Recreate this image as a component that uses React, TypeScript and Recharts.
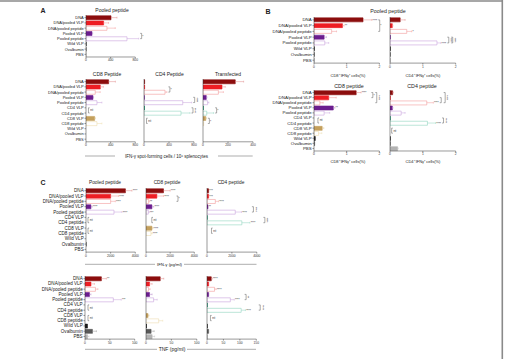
import React from 'react';
import { BarChart, Bar, XAxis, YAxis, Cell, ReferenceLine } from 'recharts';

const FONT = '"Liberation Sans", Arial, Helvetica, sans-serif';

// ---- categories ----
const groupsShort = ['DNA', 'DNA/pooled VLP', 'DNA/pooled peptide', 'Pooled VLP', 'Pooled peptide', 'Wild VLP', 'Ovalbumin', 'PBS'];
const groupsFull = ['DNA', 'DNA/pooled VLP', 'DNA/pooled peptide', 'Pooled VLP', 'Pooled peptide', 'CD4 VLP', 'CD4 peptide', 'CD8 VLP', 'CD8 peptide', 'Wild VLP', 'Ovalbumin', 'PBS'];

type Bracket = [string, string, string, number];
type Pair = [string, string];

// ---- A: IFN-γ ELISpot (spot-forming cells / 10^6 splenocytes) ----
const spotPooledMean = [406, 286, 340, 97, 665, 2, 2, 1];
const spotPooledErr = [97, 80, 135, 12, 190, 0, 0, 0];
const spotPooledStars = ['', '', '', '', '', '', '', ''];
const spotPooledBrackets: Bracket[] = [['Pooled VLP', 'Pooled peptide', '*', 0]];

const spotCd8Mean = [367, 232, 150, 113, 178, null, null, 140, 178, 0, 0, 0];
const spotCd8Err = [110, 50, 80, 10, 80, 0, 0, 12, 80, 0, 0, 0];
const spotCd8Stars = ['', '', '', '', '', '', '', '', '', '', '', ''];
const spotCd8Untested: Pair[] = [['CD4 VLP', 'CD4 peptide']];

const spotCd4Mean = [10, 10, 336, 5, 620, 8, 592, null, null, 0, 0, 0];
const spotCd4Err = [0, 0, 30, 0, 143, 0, 144, 0, 0, 0, 0, 0];
const spotCd4Stars = ['', '', '', '', '', '', '', '', '', '', '', ''];
const spotCd4Brackets: Bracket[] = [
  ['DNA/pooled VLP', 'DNA/pooled peptide', '*', 0],
  ['Pooled VLP', 'Pooled peptide', '****', 0],
  ['CD4 VLP', 'CD4 peptide', '****', 0],
];
const spotCd4Untested: Pair[] = [['CD8 VLP', 'CD8 peptide']];

const spotTransMean = [258, 152, 123, 26, 37, 3, 30, 22, 5, 0, 0, 0];
const spotTransErr = [67, 26, 40, 6, 10, 0, 55, 5, 0, 0, 0, 0];
const spotTransStars = ['', '', '', '', '', '', '', '', '', '', '', ''];
const spotTransBrackets: Bracket[] = [
  ['CD4 VLP', 'CD4 peptide', '*', 0],
  ['CD8 VLP', 'CD8 peptide', '*', 0],
];

// ---- B: intracellular IFN-γ (% of CD8+ / CD4+ cells) ----
const icsPoolCd8Mean = [1.5, 0.87, 0.54, 0.31, 0.33, 0.01, 0.01, 0.01];
const icsPoolCd8Err = [0.27, 0.05, 0.15, 0.07, 0.12, 0, 0, 0];
const icsPoolCd8Stars = ['****', '**', '', '', '', '', '', ''];
const icsPoolCd8Brackets: Bracket[] = [['DNA', 'DNA/pooled peptide', '*', 1]];

const icsPoolCd4Mean = [0.31, 0.07, 0.51, 0.01, 1.43, 0.01, 0.01, 0.01];
const icsPoolCd4Err = [0.15, 0.02, 0.15, 0, 0.12, 0, 0, 0];
const icsPoolCd4Stars = ['', '', '*', '', '****', '', '', ''];
const icsPoolCd4Brackets: Bracket[] = [
  ['Pooled VLP', 'Pooled peptide', '****', 1],
  ['Pooled VLP', 'Pooled peptide', '****', 2],
];

const icsCd8Mean = [1.29, 0.45, 0.18, 0.59, 0.31, null, null, 0.25, 0.14, 0.04, 0.02, 0];
const icsCd8Err = [0.15, 0.23, 0.1, 0.05, 0.17, 0, 0, 0.05, 0.1, 0, 0, 0];
const icsCd8Stars = ['****', '', '', '**', '', '', '', '', '', '', '', ''];
const icsCd8Brackets: Bracket[] = [
  ['DNA', 'DNA/pooled VLP', '*', 2],
  ['DNA', 'DNA/pooled peptide', '****', 3],
];
const icsCd8Untested: Pair[] = [['CD4 VLP', 'CD4 peptide']];

const icsCd4Mean = [0.08, 0.01, 1.12, 0.07, 0.34, 0.01, 1.14, null, null, 0.01, 0.01, 0.23];
const icsCd4Err = [0.02, 0, 0.2, 0.02, 0.12, 0, 0.25, 0, 0, 0, 0, 0.02];
const icsCd4Stars = ['', '', '****', '', '', '', '****', '', '', '', '', ''];
const icsCd4Brackets: Bracket[] = [
  ['DNA/pooled VLP', 'DNA/pooled peptide', '', 1],
  ['DNA', 'DNA/pooled peptide', '****', 2],
  ['CD4 VLP', 'CD4 peptide', '****', 1],
];
const icsCd4Untested: Pair[] = [['CD8 VLP', 'CD8 peptide']];

// ---- C: secreted IFN-γ and TNF (pg/ml) ----
const ifnPooledMean = [3200, 2000, 2000, 400, 2270, null, null, null, null, 0, 20, 0];
const ifnPooledErr = [530, 650, 380, 100, 650, 0, 0, 0, 0, 0, 0, 0];
const ifnPooledStars = ['****', '****', '****', '****', '****', '', '', '', '', '', '', ''];
const ifnPooledUntested: Pair[] = [['CD4 VLP', 'CD4 peptide'], ['CD8 VLP', 'CD8 peptide']];

const ifnCd8Mean = [1450, 900, 220, 490, 190, null, null, 490, 410, 0, 0, 0];
const ifnCd8Err = [550, 550, 50, 150, 80, 0, 0, 80, 100, 0, 0, 0];
const ifnCd8Stars = ['****', '****', '**', '****', '***', '', '', '****', '****', '', '', ''];
const ifnCd8Brackets: Bracket[] = [['DNA/pooled VLP', 'DNA/pooled peptide', '*', 4]];
const ifnCd8Untested: Pair[] = [['CD4 VLP', 'CD4 peptide']];

const ifnCd4Mean = [130, 130, 670, 80, 2270, 20, 2800, null, null, 0, 0, 0];
const ifnCd4Err = [0, 0, 250, 0, 500, 0, 650, 0, 0, 0, 0, 0];
const ifnCd4Stars = ['***', '***', '****', '**', '****', '', '****', '', '', '', '', ''];
const ifnCd4Brackets: Bracket[] = [
  ['Pooled VLP', 'Pooled peptide', '****', 3],
  ['CD4 VLP', 'CD4 peptide', '****', 4],
];
const ifnCd4Untested: Pair[] = [['CD8 VLP', 'CD8 peptide']];

const tnfPooledMean = [33, 12, 21, 9, 57, null, null, null, null, 5, 15, 5];
const tnfPooledErr = [10, 7, 5, 3, 16, 0, 0, 0, 0, 0, 8, 3];
const tnfPooledStars = ['**', '', '', '', '***', '', '', '', '', '', '', ''];
const tnfPooledUntested: Pair[] = [['CD4 VLP', 'CD4 peptide'], ['CD8 VLP', 'CD8 peptide']];

const tnfCd8Mean = [28, 7, 5, 7, 15, null, null, 4, 25, 1, 10, 12];
const tnfCd8Err = [7, 5, 3, 5, 7, 0, 0, 2, 8, 0, 6, 5];
const tnfCd8Stars = ['', '', '', '', '', '', '', '', '', '', '', ''];

const tnfCd4Mean = [13, 5, 23, 5, 71, 1, 104, null, null, 1, 5, 1];
const tnfCd4Err = [3, 0, 5, 0, 12, 0, 13, 0, 0, 0, 0, 0];
const tnfCd4Stars = ['****', '', '****', '', '****', '', '****', '', '', '', '', ''];
const tnfCd4Brackets: Bracket[] = [
  ['Pooled VLP', 'Pooled peptide', '**', 3],
  ['CD4 VLP', 'CD4 peptide', '****', 4],
];
const tnfCd4Untested: Pair[] = [['CD8 VLP', 'CD8 peptide']];

// ---- group styling ----
const STYLE: Record<string, { fill: string; stroke: string; err: string }> = {
  'DNA': { fill: '#8c0d0d', stroke: '#8c0d0d', err: '#e08a8a' },
  'DNA/pooled VLP': { fill: '#ee1d23', stroke: '#ee1d23', err: '#f29090' },
  'DNA/pooled peptide': { fill: '#ffffff', stroke: '#f29a9a', err: '#f29a9a' },
  'Pooled VLP': { fill: '#6b1d8f', stroke: '#6b1d8f', err: '#b890cc' },
  'Pooled peptide': { fill: '#ffffff', stroke: '#c9a3dd', err: '#c9a3dd' },
  'CD4 VLP': { fill: '#1b8a6b', stroke: '#1b8a6b', err: '#80c8b0' },
  'CD4 peptide': { fill: '#ffffff', stroke: '#90d5c0', err: '#90d5c0' },
  'CD8 VLP': { fill: '#c4a05c', stroke: '#c4a05c', err: '#dcc89a' },
  'CD8 peptide': { fill: '#ffffff', stroke: '#ecdcae', err: '#ecdcae' },
  'Wild VLP': { fill: '#1a1a1a', stroke: '#1a1a1a', err: '#888888' },
  'Ovalbumin': { fill: '#595959', stroke: '#595959', err: '#9a9a9a' },
  'PBS': { fill: '#b3b3b3', stroke: '#b3b3b3', err: '#c0c0c0' },
};

type Box = { x0: number; x1: number; top: number; bottom: number };

function Whisker(props: any) {
  const { x1, y1, x2, color, stars, hasErr } = props;
  if (x1 == null || y1 == null) return <g />;
  return (
    <g>
      {hasErr && <line x1={x1} y1={y1} x2={x2} y2={y1} stroke={color} strokeWidth={0.5} />}
      {hasErr && <line x1={x2} y1={y1 - 0.9} x2={x2} y2={y1 + 0.9} stroke={color} strokeWidth={0.5} />}
      {stars ? (
        <text x={x2 + 0.7} y={y1 + 1.7} fontSize={3} fill="#333" fontFamily={FONT}>{stars}</text>
      ) : null}
    </g>
  );
}

function BracketMark(props: any) {
  const { x1, y1, y2, text } = props;
  if (x1 == null || y1 == null) return <g />;
  const top = Math.min(y1, y2);
  const bot = Math.max(y1, y2);
  const mid = (top + bot) / 2;
  const t = 1.5;
  return (
    <g>
      <polyline points={`${x1 - t},${top} ${x1},${top} ${x1},${bot} ${x1 - t},${bot}`} fill="none" stroke="#555" strokeWidth={0.5} />
      {text && text.length === 1 ? (
        <text x={x1 + 0.6} y={mid + 1.7} fontSize={3} fill="#333" fontFamily={FONT}>{text}</text>
      ) : null}
      {text && text.length > 1 ? (
        <text x={x1 + 0.3} y={mid} fontSize={3} fill="#333" fontFamily={FONT} textAnchor="middle" transform={`rotate(90 ${x1 + 0.3} ${mid})`}>{text}</text>
      ) : null}
    </g>
  );
}

function UntestedMark(props: any) {
  const { x1, y1, y2 } = props;
  if (x1 == null || y1 == null) return <g />;
  const top = Math.min(y1, y2);
  const bot = Math.max(y1, y2);
  const t = 1.2;
  return (
    <g>
      <polyline points={`${x1 + t},${top} ${x1},${top} ${x1},${bot} ${x1 + t},${bot}`} fill="none" stroke="#555" strokeWidth={0.5} />
      <text x={x1 + 1.8} y={(top + bot) / 2} fontSize={3.4} fill="#333" fontFamily={FONT} dominantBaseline="central">nt</text>
    </g>
  );
}

// category label drawn as a single-line svg text
function GroupTick(props: any) {
  const { x, y, payload, size } = props;
  return (
    <text x={x} y={y} fontSize={size} fill="#222" fontFamily={FONT} textAnchor="end" dominantBaseline="central">
      {payload.value}
    </text>
  );
}

type PanelProps = {
  cats: string[];
  mean: (number | null)[];
  err: number[];
  stars: string[];
  brackets?: Bracket[];
  untested?: Pair[];
  max: number;
  ticks: number[];
  box: Box;
  labelSize?: number;
  ntAt?: number;
};

function Panel(p: PanelProps) {
  const yw = p.labelSize ? 80 : 3;
  const mr = 26;
  const xh = 12;
  const plotW = p.box.x1 - p.box.x0;
  const plotH = p.box.bottom - p.box.top;
  const data = p.cats.map((name, i) => ({ name, v: p.mean[i] }));
  const tops = p.cats.map((_, i) => (p.mean[i] ?? 0) + (p.err[i] ?? 0));
  const pad = p.max * 0.06;
  const idx = (c: string) => p.cats.indexOf(c);
  const size = p.labelSize;

  return (
    <div style={{ position: 'absolute', left: p.box.x0 - yw, top: p.box.top }}>
      <BarChart
        layout="vertical"
        width={yw + plotW + mr}
        height={plotH + xh}
        data={data}
        margin={{ top: 0, right: mr, bottom: 0, left: 0 }}
        barCategoryGap="15%"
      >
        <XAxis
          type="number"
          domain={[0, p.max]}
          ticks={p.ticks}
          interval={0}
          allowDataOverflow
          tickSize={1.5}
          tickMargin={0.6}
          height={xh}
          stroke="#333"
          strokeWidth={0.5}
          tick={{ fontSize: 3.3, fill: '#333', fontFamily: FONT }}
        />
        <YAxis
          type="category"
          dataKey="name"
          width={yw}
          interval={0}
          tickSize={1.5}
          tickMargin={0.8}
          stroke="#333"
          strokeWidth={0.5}
          tick={size ? (tp: any) => <GroupTick {...tp} size={size} /> : false}
        />
        <Bar dataKey="v" isAnimationActive={false}>
          {data.map((d) => (
            <Cell key={d.name} fill={STYLE[d.name].fill} stroke={STYLE[d.name].stroke} strokeWidth={0.6} />
          ))}
        </Bar>
        {data.map((d, i) => {
          const v = p.mean[i];
          const e = p.err[i] || 0;
          const s = p.stars[i] || '';
          if (v == null || (!e && !s)) return null;
          const col = STYLE[d.name].err;
          return (
            <ReferenceLine
              key={'w' + i}
              ifOverflow="visible"
              segment={[{ x: v, y: d.name }, { x: v + e, y: d.name }]}
              shape={(sp: any) => <Whisker {...sp} color={col} stars={s} hasErr={e > 0} />}
            />
          );
        })}
        {(p.brackets || []).map(([a, b, label, level], k) => {
          const i0 = Math.min(idx(a), idx(b));
          const i1 = Math.max(idx(a), idx(b));
          const bx = Math.max(...tops.slice(i0, i1 + 1)) + pad * (level + 1);
          return (
            <ReferenceLine
              key={'b' + k}
              ifOverflow="visible"
              segment={[{ x: bx, y: a }, { x: bx, y: b }]}
              shape={(sp: any) => <BracketMark {...sp} text={label} />}
            />
          );
        })}
        {(p.untested || []).map(([a, b], k) => (
          <ReferenceLine
            key={'n' + k}
            ifOverflow="visible"
            segment={[{ x: p.max * (p.ntAt ?? 0.05), y: a }, { x: p.max * (p.ntAt ?? 0.05), y: b }]}
            shape={(sp: any) => <UntestedMark {...sp} />}
          />
        ))}
      </BarChart>
    </div>
  );
}

// ---- panel placement ----
const boxA1: Box = { x0: 85.7, x1: 135, top: 14.5, bottom: 56.5 };
const boxA2: Box = { x0: 85.7, x1: 135, top: 79.2, bottom: 142 };
const boxA3: Box = { x0: 144, x1: 194, top: 79.2, bottom: 142 };
const boxA4: Box = { x0: 202.7, x1: 252.7, top: 79.2, bottom: 142 };
const boxB1: Box = { x0: 314.3, x1: 379.7, top: 17.2, bottom: 63.3 };
const boxB2: Box = { x0: 390, x1: 455.7, top: 17.2, bottom: 63.3 };
const boxB3: Box = { x0: 314.3, x1: 379.7, top: 89.8, bottom: 150.8 };
const boxB4: Box = { x0: 390, x1: 455.7, top: 89.8, bottom: 150.8 };
const boxC1: Box = { x0: 85.7, x1: 135, top: 188.4, bottom: 252.5 };
const boxC2: Box = { x0: 145.7, x1: 194, top: 188.4, bottom: 252.5 };
const boxC3: Box = { x0: 206.7, x1: 256.5, top: 188.4, bottom: 252.5 };
const boxC4: Box = { x0: 85.3, x1: 135, top: 276.4, bottom: 339.5 };
const boxC5: Box = { x0: 145.7, x1: 196.5, top: 276.4, bottom: 339.5 };
const boxC6: Box = { x0: 206.7, x1: 256, top: 276.4, bottom: 339.5 };

function T(props: { x: number; y: number; size: number; children: React.ReactNode; bold?: boolean; anchor?: string }) {
  return (
    <text
      x={props.x}
      y={props.y}
      fontSize={props.size}
      fontWeight={props.bold ? 700 : 400}
      fill="#222"
      fontFamily={FONT}
      textAnchor={props.anchor || 'middle'}
      dominantBaseline="central"
    >
      {props.children}
    </text>
  );
}

function RuledCaption(props: { y: number; x0: number; x1: number; gap0: number; gap1: number; size: number; text: string }) {
  const cx = (props.gap0 + props.gap1) / 2;
  return (
    <g>
      <line x1={props.x0} y1={props.y} x2={props.gap0} y2={props.y} stroke="#777" strokeWidth={0.6} />
      <line x1={props.gap1} y1={props.y} x2={props.x1} y2={props.y} stroke="#777" strokeWidth={0.6} />
      <T x={cx} y={props.y} size={props.size}>{props.text}</T>
    </g>
  );
}

export default function App() {
  return (
    <div style={{ position: 'absolute', left: 0, top: 0, width: 511, height: 359, background: '#fff', overflow: 'hidden' }}>
      <Panel cats={groupsShort} mean={spotPooledMean} err={spotPooledErr} stars={spotPooledStars} brackets={spotPooledBrackets} max={800} ticks={[0, 400, 800]} box={boxA1} labelSize={4.0} />
      <Panel cats={groupsFull} mean={spotCd8Mean} err={spotCd8Err} stars={spotCd8Stars} untested={spotCd8Untested} ntAt={0.05} max={800} ticks={[0, 400, 800]} box={boxA2} labelSize={4.0} />
      <Panel cats={groupsFull} mean={spotCd4Mean} err={spotCd4Err} stars={spotCd4Stars} brackets={spotCd4Brackets} untested={spotCd4Untested} ntAt={0.05} max={800} ticks={[0, 400, 800]} box={boxA3} />
      <Panel cats={groupsFull} mean={spotTransMean} err={spotTransErr} stars={spotTransStars} brackets={spotTransBrackets} max={400} ticks={[0, 200, 400]} box={boxA4} />

      <Panel cats={groupsShort} mean={icsPoolCd8Mean} err={icsPoolCd8Err} stars={icsPoolCd8Stars} brackets={icsPoolCd8Brackets} max={2} ticks={[0, 1, 2]} box={boxB1} labelSize={4.4} />
      <Panel cats={groupsShort} mean={icsPoolCd4Mean} err={icsPoolCd4Err} stars={icsPoolCd4Stars} brackets={icsPoolCd4Brackets} max={2} ticks={[0, 1, 2]} box={boxB2} />
      <Panel cats={groupsFull} mean={icsCd8Mean} err={icsCd8Err} stars={icsCd8Stars} brackets={icsCd8Brackets} untested={icsCd8Untested} ntAt={0.06} max={2} ticks={[0, 1, 2]} box={boxB3} labelSize={4.4} />
      <Panel cats={groupsFull} mean={icsCd4Mean} err={icsCd4Err} stars={icsCd4Stars} brackets={icsCd4Brackets} untested={icsCd4Untested} ntAt={0.025} max={2} ticks={[0, 1, 2]} box={boxB4} />

      <Panel cats={groupsFull} mean={ifnPooledMean} err={ifnPooledErr} stars={ifnPooledStars} untested={ifnPooledUntested} ntAt={0.04} max={4000} ticks={[0, 2000, 4000]} box={boxC1} labelSize={4.6} />
      <Panel cats={groupsFull} mean={ifnCd8Mean} err={ifnCd8Err} stars={ifnCd8Stars} brackets={ifnCd8Brackets} untested={ifnCd8Untested} ntAt={0.12} max={4000} ticks={[0, 2000, 4000]} box={boxC2} />
      <Panel cats={groupsFull} mean={ifnCd4Mean} err={ifnCd4Err} stars={ifnCd4Stars} brackets={ifnCd4Brackets} untested={ifnCd4Untested} ntAt={0.09} max={4000} ticks={[0, 2000, 4000]} box={boxC3} />
      <Panel cats={groupsFull} mean={tnfPooledMean} err={tnfPooledErr} stars={tnfPooledStars} untested={tnfPooledUntested} ntAt={0.06} max={100} ticks={[0, 50, 100]} box={boxC4} labelSize={4.6} />
      <Panel cats={groupsFull} mean={tnfCd8Mean} err={tnfCd8Err} stars={tnfCd8Stars} max={100} ticks={[0, 50, 100]} box={boxC5} />
      <Panel cats={groupsFull} mean={tnfCd4Mean} err={tnfCd4Err} stars={tnfCd4Stars} brackets={tnfCd4Brackets} untested={tnfCd4Untested} ntAt={0.07} max={150} ticks={[0, 50, 100, 150]} box={boxC6} />

      <svg width={511} height={359} style={{ position: 'absolute', left: 0, top: 0, pointerEvents: 'none' }}>
        <line x1={0} y1={1} x2={503} y2={1} stroke="#8a8a8a" strokeWidth={1.6} />
        <line x1={502.3} y1={0} x2={502.3} y2={359} stroke="#8a8a8a" strokeWidth={1.6} />

        <T x={43} y={10} size={7} bold>A</T>
        <T x={268} y={11} size={7} bold>B</T>
        <T x={43} y={182.5} size={7} bold>C</T>

        <T x={112} y={10} size={5}>Pooled peptide</T>
        <T x={107} y={74} size={5}>CD8 Peptide</T>
        <T x={169.5} y={74} size={5}>CD4 Peptide</T>
        <T x={228} y={74} size={5}>Transfected</T>
        <RuledCaption y={156} x0={85} x1={252.7} gap0={115} gap1={218} size={4.5} text="IFN-γ spot-forming cells / 10⁶ splenocytes" />

        <T x={388} y={11} size={5.3}>Pooled peptide</T>
        <T x={349} y={86} size={5.3}>CD8 peptide</T>
        <T x={422} y={86} size={5.3}>CD4 peptide</T>
        <T x={348} y={75} size={4}>CD8⁺ IFNγ⁺ cells(%)</T>
        <T x={423} y={75} size={4}>CD4⁺ IFNγ⁺ cells(%)</T>
        <T x={348} y={161.7} size={4}>CD8⁺ IFNγ⁺ cells(%)</T>
        <T x={423} y={161.7} size={4}>CD4⁺ IFNγ⁺ cells(%)</T>

        <T x={105} y={182} size={4.8}>Pooled peptide</T>
        <T x={167} y={182} size={4.8}>CD8 peptide</T>
        <T x={231} y={182} size={4.8}>CD4 peptide</T>
        <RuledCaption y={264.3} x0={85} x1={256.5} gap0={155} gap1={184} size={4.3} text="IFN-γ (pg/ml)" />
        <RuledCaption y={349.3} x0={85} x1={256} gap0={157} gap1={187} size={5} text="TNF (pg/ml)" />
      </svg>
    </div>
  );
}
